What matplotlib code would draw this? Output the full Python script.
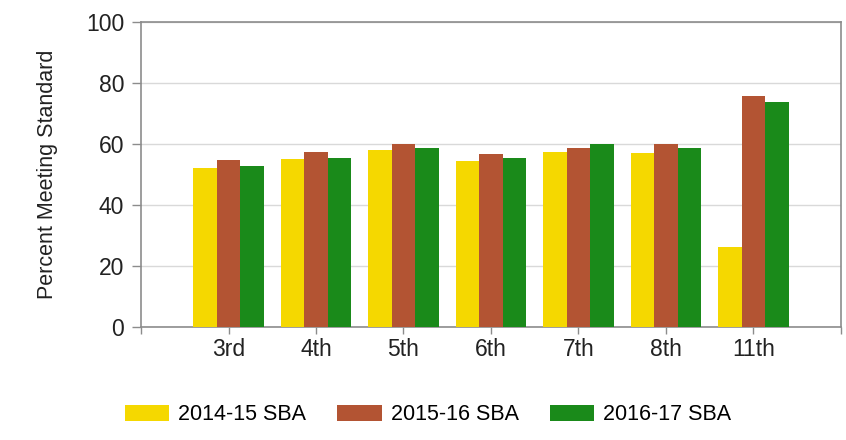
import numpy as np
import matplotlib
matplotlib.use("Agg")
import matplotlib.pyplot as plt

plt.rcParams['font.family'] = ['Liberation Sans', 'DejaVu Sans']

# data
grades = ["3rd", "4th", "5th", "6th", "7th", "8th", "11th"]
sba_2014_15 = [52.1, 55.0, 58.0, 54.4, 57.4, 57.2, 26.1]
sba_2015_16 = [54.8, 57.4, 60.0, 56.7, 58.7, 59.9, 75.7]
sba_2016_17 = [52.8, 55.4, 58.7, 55.4, 60.0, 58.6, 73.6]
series_names = ["2014-15 SBA", "2015-16 SBA", "2016-17 SBA"]

colors = ["#F5D800", "#B35433", "#1A8A1A"]

fig = plt.figure(figsize=(8.46, 4.40), dpi=100)
ax = fig.add_axes([0.1667, 0.257, 0.8273, 0.693])

x = np.arange(1, len(grades) + 1)
w = 0.27
for i, (vals, name, c) in enumerate(zip([sba_2014_15, sba_2015_16, sba_2016_17], series_names, colors)):
    ax.bar(x + (i - 1) * w, vals, width=w, color=c, label=name, zorder=3)

ax.set_xlim(0, len(grades) + 1)
ax.set_ylim(0, 100)
ax.set_yticks(np.arange(0, 101, 20))
ax.set_xticks(np.arange(0, len(grades) + 2))
ax.set_xticklabels([""] + grades + [""])

ax.grid(axis='y', color='#d9d9d9', linewidth=1, zorder=0)
for s in ax.spines.values():
    s.set_color('#8c8c8c')
    s.set_linewidth(1.2)

ax.tick_params(axis='y', length=6.5, width=1, color='#8c8c8c', labelsize=16.5, pad=5.5, labelcolor='#222222')
ax.tick_params(axis='x', length=5, width=1, color='#8c8c8c', labelsize=16.5, pad=3, labelcolor='#222222')

ax.set_ylabel("Percent Meeting Standard", fontsize=15.5, color='#222222')
ax.yaxis.set_label_coords(-0.118, 0.5)

fig.legend(loc='center', bbox_to_anchor=(0.506, 0.057), ncol=3, frameon=False,
           fontsize=15.5, handlelength=2.05, handleheight=0.8, handletextpad=0.42,
           columnspacing=1.44)

fig.savefig("out.png", dpi=100)
